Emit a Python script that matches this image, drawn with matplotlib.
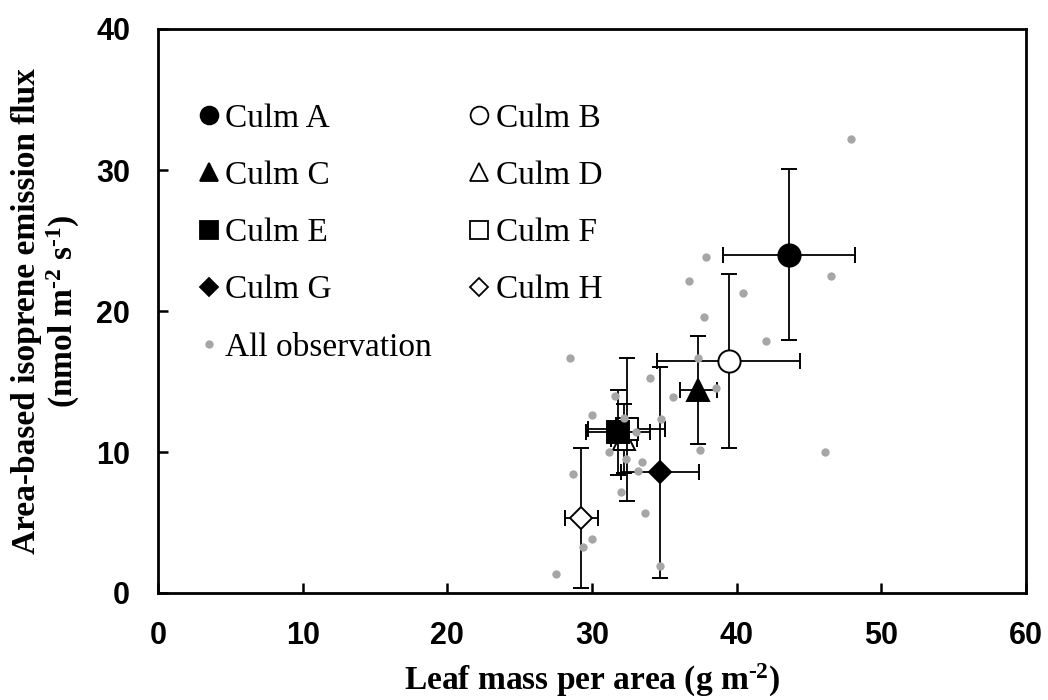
import matplotlib
matplotlib.use("Agg")
import matplotlib.pyplot as plt
from matplotlib.lines import Line2D

# ---- data ----
culms = ["Culm A", "Culm B", "Culm C", "Culm D", "Culm E", "Culm F", "Culm G", "Culm H"]
lma_mean = [43.6, 39.45, 37.35, 32.2, 31.8, 32.4, 34.7, 29.25]
lma_err = [4.55, 4.95, 1.3, 0.9, 2.2, 2.65, 2.67, 1.15]
flux_mean = [24.0, 16.45, 14.4, 10.95, 11.4, 11.6, 8.55, 5.3]
flux_err = [6.05, 6.15, 3.85, 2.45, 3.0, 5.1, 7.5, 4.95]

obs_lma = [47.88, 37.88, 36.71, 46.55, 40.46, 37.75, 42.03, 28.49, 37.35, 34.04,
           35.58, 38.6, 31.6, 30.03, 32.24, 34.75, 33.05, 31.18, 37.44, 46.08,
           32.33, 33.48, 33.16, 28.67, 32.03, 33.67, 30.03, 29.38, 34.73, 27.52]
obs_flux = [32.2, 23.85, 22.13, 22.46, 21.28, 19.6, 17.85, 16.69, 16.69, 15.23,
            13.9, 14.54, 14.0, 12.62, 12.43, 12.32, 11.42, 10.02, 10.14, 10.02,
            9.5, 9.29, 8.63, 8.46, 7.14, 5.67, 3.85, 3.28, 1.91, 1.37]

x_ticks = [0, 10, 20, 30, 40, 50, 60]
y_ticks = [0, 10, 20, 30, 40]

# ---- styles ----
markers = ["o", "o", "^", "^", "s", "s", "D", "D"]
filled = [True, False, True, False, True, False, True, False]
msize = [16, 16, 16, 16, 16, 16, 11.5, 11.5]
zorders = [3, 3, 3, 2, 3.5, 2.5, 3, 3]

plt.rcParams["mathtext.fontset"] = "custom"
plt.rcParams["mathtext.rm"] = "Liberation Serif:bold"
plt.rcParams["mathtext.it"] = "Liberation Serif:bold"
plt.rcParams["mathtext.bf"] = "Liberation Serif:bold"

fig = plt.figure(figsize=(10.48, 7.0), dpi=100)
ax = fig.add_axes([158 / 1048, 1 - 593 / 700, (1026 - 158) / 1048, (593 - 29) / 700])

for i in range(len(culms)):
    ax.errorbar(lma_mean[i], flux_mean[i], xerr=lma_err[i], yerr=flux_err[i],
                fmt=markers[i], ms=msize[i],
                mfc="black" if filled[i] else "white", mec="black", mew=1.4,
                ecolor="black", elinewidth=1.3, capsize=5.5, capthick=1.3,
                zorder=zorders[i])

obs_handle, = ax.plot(obs_lma, obs_flux, "o", ms=6, color="#a6a6a6", mec="none",
                      zorder=5, label="All observation")

ax.set_xlim(0, 60)
ax.set_ylim(0, 40)
ax.set_xticks(x_ticks)
ax.set_yticks(y_ticks)
ax.tick_params(direction="in", length=7, width=1.8, pad=20)
for lab in ax.get_xticklabels() + ax.get_yticklabels():
    lab.set_fontfamily("Liberation Sans")
    lab.set_fontweight("bold")
    lab.set_fontsize(22)
for sp in ax.spines.values():
    sp.set_linewidth(2.0)

ax.set_xlabel(r"Leaf mass per area (g m$^{\text{-}2}$)", fontfamily="Liberation Serif",
              fontweight="bold", fontsize=24, labelpad=8)
ax.set_ylabel("Area-based isoprene emission flux\n" r"(nmol m$^{\text{-}2}$ s$^{\text{-}1}$)",
              fontfamily="Liberation Serif", fontweight="bold", fontsize=24,
              labelpad=10, linespacing=1.1)

handles = []
for i in range(len(culms)):
    handles.append(Line2D([], [], linestyle="none", marker=markers[i],
                          ms=msize[i] * 0.8,
                          mfc="black" if filled[i] else "white", mec="black",
                          mew=1.3, label=culms[i]))
order = [0, 2, 4, 6]
leg_handles = [handles[i] for i in order] + [obs_handle] + [handles[i] for i in [1, 3, 5, 7]]
leg = ax.legend(handles=leg_handles, ncol=2, loc="upper left",
                bbox_to_anchor=(0.047, 0.868), frameon=False, borderpad=0,
                borderaxespad=0, handlelength=0.6, handletextpad=0.2,
                columnspacing=1.1, labelspacing=0.8,
                prop={"family": "Liberation Serif", "size": 24})

fig.savefig("out.png", dpi=100)
